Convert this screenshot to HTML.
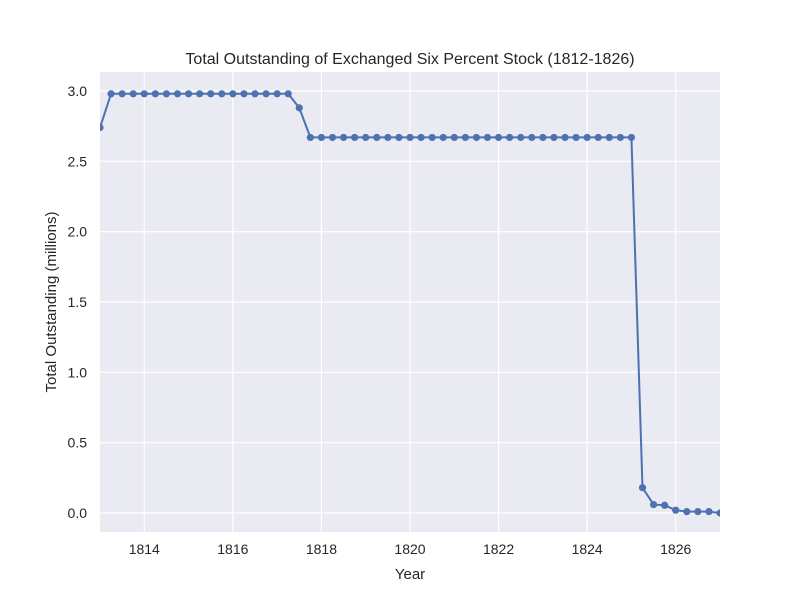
<!DOCTYPE html>
<html><head><meta charset="utf-8"><style>
body{margin:0;background:#fff;}
svg text{font-family:"Liberation Sans","DejaVu Sans",sans-serif;fill:#262626;}
</style></head><body>
<svg id="chart" width="800" height="600">
<defs><clipPath id="plotclip"><rect x="100" y="72" width="620" height="460"/></clipPath></defs>
<rect x="100" y="72" width="620" height="460" fill="#eaeaf2"/>
<g id="grid"></g><g id="ticks"></g><g id="series" clip-path="url(#plotclip)"></g>
<text x="410" y="64" text-anchor="middle" font-size="16">Total Outstanding of Exchanged Six Percent Stock (1812-1826)</text>
<text x="410" y="579" text-anchor="middle" font-size="15">Year</text>
<text transform="translate(56,302) rotate(-90)" text-anchor="middle" font-size="15">Total Outstanding (millions)</text>
</svg>
<script>
const years = [1813,1813.25,1813.5,1813.75,1814,1814.25,1814.5,1814.75,1815,1815.25,1815.5,1815.75,1816,1816.25,1816.5,1816.75,1817,1817.25,1817.5,1817.75,1818,1818.25,1818.5,1818.75,1819,1819.25,1819.5,1819.75,1820,1820.25,1820.5,1820.75,1821,1821.25,1821.5,1821.75,1822,1822.25,1822.5,1822.75,1823,1823.25,1823.5,1823.75,1824,1824.25,1824.5,1824.75,1825,1825.25,1825.5,1825.75,1826,1826.25,1826.5,1826.75,1827];
const outstanding = [2.74,2.98,2.98,2.98,2.98,2.98,2.98,2.98,2.98,2.98,2.98,2.98,2.98,2.98,2.98,2.98,2.98,2.98,2.88,2.67,2.67,2.67,2.67,2.67,2.67,2.67,2.67,2.67,2.67,2.67,2.67,2.67,2.67,2.67,2.67,2.67,2.67,2.67,2.67,2.67,2.67,2.67,2.67,2.67,2.67,2.67,2.67,2.67,2.67,0.18,0.06,0.055,0.02,0.01,0.01,0.01,0.0];
const xTicks = [1814,1816,1818,1820,1822,1824,1826];
const yTicks = [0,0.5,1,1.5,2,2.5,3];
const yTickLabels = ["0.0","0.5","1.0","1.5","2.0","2.5","3.0"];
const X0=100,X1=720,Y0=532,Y1=72,xmin=1813,xmax=1827,ymin=-0.135,ymax=3.135;
const sx=v=>X0+(v-xmin)/(xmax-xmin)*(X1-X0);
const sy=v=>Y0-(v-ymin)/(ymax-ymin)*(Y0-Y1);
const NS="http://www.w3.org/2000/svg";
function mk(tag,attrs,parent,txt){const e=document.createElementNS(NS,tag);for(const k in attrs)e.setAttribute(k,attrs[k]);if(txt!==undefined)e.textContent=txt;parent.appendChild(e);return e;}
const grid=document.getElementById('grid'),ticks=document.getElementById('ticks'),series=document.getElementById('series');
xTicks.forEach(t=>{
  const l=mk('line',{x1:sx(t),x2:sx(t),y1:Y1,y2:Y0,stroke:'#fff','stroke-width':1.2},grid);
  
  
  const tx=mk('text',{x:sx(t),y:554,'text-anchor':'middle','font-size':14},ticks,String(t));
  
  
});
yTicks.forEach((t,i)=>{
  const l=mk('line',{x1:X0,x2:X1,y1:sy(t),y2:sy(t),stroke:'#fff','stroke-width':1.2},grid);
  
  
  const tx=mk('text',{x:87,y:sy(t)+5,'text-anchor':'end','font-size':14},ticks,yTickLabels[i]);
  
  
});
const pts=years.map((y,i)=>sx(y)+','+sy(outstanding[i])).join(' ');
const pl=mk('polyline',{points:pts,fill:'none',stroke:'#4c72b0','stroke-width':2},series);


years.forEach((y,i)=>{
  const c=mk('circle',{cx:sx(y),cy:sy(outstanding[i]),r:3.6,fill:'#4c72b0'},series);
  
  
});
</script>
</body></html>
